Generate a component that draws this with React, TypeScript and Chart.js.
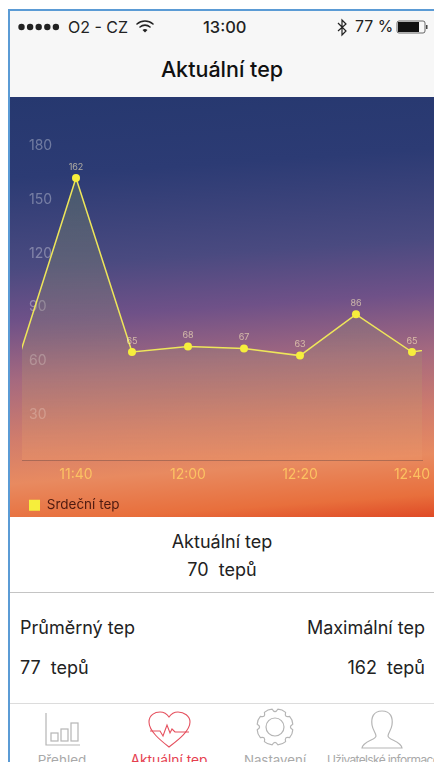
import React, { useEffect, useRef } from "react";
import { Chart, registerables } from "chart.js";

Chart.register(...registerables);

const timeLabels = ["11:30", "11:40", "11:50", "12:00", "12:10", "12:20", "12:30", "12:40", "12:50"];
const heartRate = [64, 162, 65, 68, 67, 63, 86, 65, 70];
const shownTimeIndexes = [1, 3, 5, 7];
const yTicks = [30, 60, 90, 120, 150, 180];
const seriesName = "Srdeční tep";
const FONT = "Inter, Roboto, sans-serif";

const pointLabels = {
  id: "pointLabels",
  afterDatasetsDraw(chart: any) {
    const ctx = chart.ctx;
    const meta = chart.getDatasetMeta(0);
    ctx.save();
    ctx.font = `9px ${FONT}`;
    ctx.textAlign = "center";
    ctx.textBaseline = "middle";
    ctx.fillStyle = "rgba(255,240,190,0.62)";
    meta.data.forEach((p: any, i: number) => {
      if (i === 0 || i === heartRate.length - 1) return;
      ctx.fillText(String(heartRate[i]), p.x, p.y - 11);
    });
    ctx.restore();
  },
};

function HeartChart() {
  const ref = useRef<HTMLCanvasElement>(null);
  useEffect(() => {
    const chart = new Chart(ref.current!, {
      type: "line",
      data: {
        datasets: [
          {
            label: seriesName,
            data: heartRate.map((v, i) => ({ x: i, y: v })),
            borderColor: "#eee65a",
            borderWidth: 1.5,
            backgroundColor: (c: any) => {
              const a = c.chart.chartArea;
              if (!a) return "rgba(125,140,110,0.28)";
              const g = c.chart.ctx.createLinearGradient(0, a.top + 60, 0, a.bottom);
              g.addColorStop(0, "rgba(105,130,100,0.42)");
              g.addColorStop(0.55, "rgba(150,140,115,0.30)");
              g.addColorStop(1, "rgba(238,150,105,0.40)");
              return g;
            },
            fill: "start",
            tension: 0,
            pointBackgroundColor: "#f6ee3c",
            pointBorderColor: "#f6ee3c",
            pointBorderWidth: 0,
            pointRadius: (c: any) => (c.dataIndex === 0 || c.dataIndex === heartRate.length - 1 ? 0 : 4),
          },
        ],
      },
      options: {
        responsive: false,
        animation: false,
        layout: { padding: { left: 12, right: 12, top: 20, bottom: -5 } },
        plugins: {
          tooltip: { enabled: false },
          legend: {
            position: "bottom",
            align: "start",
            labels: {
              boxWidth: 11,
              boxHeight: 11,
              padding: 7,
              color: "#4e1a10",
              font: { family: FONT, size: 13.5 },
              generateLabels: () => [
                { text: seriesName, fillStyle: "#f6ee3c", strokeStyle: "#f6ee3c", lineWidth: 0, datasetIndex: 0, fontColor: "#4e1a10" },
              ],
            },
          },
        },
        scales: {
          x: {
            type: "linear",
            min: 0.0357,
            max: 7.179,
            afterBuildTicks: (s: any) => {
              s.ticks = shownTimeIndexes.map((value) => ({ value }));
            },
            afterFit: (s: any) => {
              s.height = 31.5;
              s.paddingLeft = 0;
              s.paddingRight = 0;
            },
            grid: { display: false, drawTicks: false },
            border: { display: true, color: "rgba(120,80,70,0.5)", width: 1 },
            ticks: {
              color: "rgba(255,205,100,0.85)",
              font: { family: FONT, size: 14 },
              padding: 6,
              maxRotation: 0,
              autoSkip: false,
              callback: (v: any) => timeLabels[v],
            },
          },
          y: {
            min: 4.8,
            max: 196,
            afterBuildTicks: (s: any) => {
              s.ticks = yTicks.map((value) => ({ value }));
            },
            afterFit: (s: any) => {
              s.width = 0;
            },
            grid: { display: false, drawTicks: false },
            border: { display: false },
            ticks: {
              mirror: true,
              padding: 7,
              color: "rgba(255,255,255,0.33)",
              font: { family: FONT, size: 14 },
            },
          },
        },
      },
      plugins: [pointLabels],
    } as any);
    return () => chart.destroy();
  }, []);
  return <canvas ref={ref} width={424} height={420} style={{ display: "block", width: 424, height: 420 }} />;
}

const abs = (left: number, top: number, extra: React.CSSProperties = {}): React.CSSProperties => ({
  position: "absolute",
  left,
  top,
  whiteSpace: "nowrap",
  ...extra,
});

const tabs = [
  { label: "Přehled", cx: 62, color: "#a9a9a9", size: 13.5, spacing: 0 },
  { label: "Aktuální tep", cx: 169, color: "#e5404f", size: 13.8, spacing: 0 },
  { label: "Nastavení", cx: 275, color: "#a9a9a9", size: 13.3, spacing: 0 },
  { label: "Uživatelské informace", cx: 383, color: "#a9a9a9", size: 12, spacing: -0.65 },
];

const gearTeeth = [0, 1, 2, 3, 4, 5, 6, 7];
function gearPath(cx: number, cy: number, r1: number, r2: number) {
  let d = "";
  gearTeeth.forEach((i) => {
    const step = Math.PI / 4;
    const a = i * step + step / 2;
    const p = (ang: number, r: number) => `${(cx + Math.cos(ang) * r).toFixed(1)} ${(cy + Math.sin(ang) * r).toFixed(1)}`;
    d += `${i === 0 ? "M" : "L"}${p(a - step * 0.3, r2)} Q${p(a, r2 + 1)} ${p(a + step * 0.3, r2)} Q${p(a + step * 0.5, r1)} ${p(a + step * 0.7, r2)} `;
  });
  return d + "Z";
}

export default function App() {
  const dots = [0, 1, 2, 3, 4];
  return (
    <div style={{ position: "fixed", left: 0, top: 0, width: 434, height: 762, overflow: "hidden", background: "#fff", fontFamily: FONT, color: "#222" }}>
      <div style={abs(8, 9, { width: 426, height: 2, background: "#5b9bd5" })} />
      <div style={abs(8, 9, { width: 2, height: 753, background: "#5b9bd5" })} />
      <div style={abs(10, 11, { width: 424, height: 86, background: "#f7f7f7" })} />

      <svg width={434} height={97} style={abs(0, 0)}>
        {dots.map((d) => (
          <circle key={d} cx={21.5 + d * 8.6} cy={27} r={3.2} fill="#222" />
        ))}
        <g fill="none" stroke="#222" strokeWidth={1.6} strokeLinecap="round">
          <path d="M137 24 a12 12 0 0 1 16 0" />
          <path d="M140 27 a7.5 7.5 0 0 1 10 0" />
        </g>
        <path d="M142.5 30 a4 4 0 0 1 5 0 l-2.5 2.5 z" fill="#222" />
        <path d="M338 23 l8 8 l-4 4 v-15 l4 4 l-8 7" fill="none" stroke="#222" strokeWidth={1.2} />
        <rect x={397} y={21} width={28} height={12} rx={2} fill="none" stroke="#444" strokeWidth={0.8} />
        <rect x={398} y={22} width={21} height={10} fill="#111" />
        <rect x={426} y={25} width={1.5} height={4} fill="#444" />
      </svg>
      <div style={abs(68, 18, { fontSize: 16, lineHeight: "18px" })}>O2 - CZ</div>
      <div style={abs(203, 18, { fontSize: 16.5, lineHeight: "18px", fontWeight: 500 })}>13:00</div>
      <div style={abs(355, 18, { fontSize: 15.8, lineHeight: "18px" })}>77 %</div>
      <div style={abs(10, 56, { width: 424, textAlign: "center", fontSize: 21.5, lineHeight: "26px", fontWeight: 500, color: "#111" })}>Aktuální tep</div>

      <div style={abs(10, 97, { width: 424, height: 420, background: "linear-gradient(176deg, #26386f 0%, #2c3b74 18%, #4a4a80 38%, #6f5188 50%, #a5697f 63%, #d07c6c 76%, #e88a60 86%, #e86f3c 95%, #df4a26 100%)" })}>
        <HeartChart />
      </div>

      <div style={abs(10, 530, { width: 424, textAlign: "center", fontSize: 18, lineHeight: "24px" })}>Aktuální tep</div>
      <div style={abs(10, 558, { width: 424, textAlign: "center", fontSize: 18, lineHeight: "24px" })}>70&nbsp; tepů</div>
      <div style={abs(10, 592, { width: 424, height: 1, background: "#c4c4c4" })} />

      <div style={abs(20, 616, { fontSize: 18, lineHeight: "24px" })}>Průměrný tep</div>
      <div style={abs(20, 656, { fontSize: 18, lineHeight: "24px" })}>77&nbsp; tepů</div>
      <div style={abs(225, 616, { width: 200, textAlign: "right", fontSize: 18, lineHeight: "24px" })}>Maximální tep</div>
      <div style={abs(225, 656, { width: 200, textAlign: "right", fontSize: 18, lineHeight: "24px" })}>162&nbsp; tepů</div>
      <div style={abs(10, 703, { width: 424, height: 1, background: "#dcdcdc" })} />

      <svg width={434} height={60} viewBox="0 702 434 60" style={abs(0, 702)}>
        <g fill="none" stroke="#b5b5b5" strokeWidth={1.2}>
          <path d="M46 713 V745 H80" />
          <rect x={51} y={733} width={7} height={8} />
          <rect x={61} y={729} width={7} height={12} />
          <rect x={71} y={723} width={7} height={18} />
        </g>
        <g fill="none" stroke="#e5505e" strokeWidth={1.1}>
          <path d="M169 747 C160 740 149 731 149 722 C149 715 155 712 160 712 C164 712 167 714 169 717 C171 714 174 712 178 712 C184 712 190 716 190 722 C190 731 178 740 169 747 Z" />
          <path d="M150 731 H160 L163 736 L167 725 L170 733 L172 729 L175 732 H189" />
        </g>
        <g fill="none" stroke="#b5b5b5" strokeWidth={1.2}>
          <path d={gearPath(275, 727, 13, 18)} strokeLinejoin="round" />
          <circle cx={275} cy={727} r={9} />
        </g>
        <path d="M382 711 C373 711 371 718 372 725 C373 731 376 733 376 736 C376 740 363 741 362 748 H402 C401 741 388 740 388 736 C388 733 391 731 392 725 C393 718 391 711 382 711 Z" fill="none" stroke="#b5b5b5" strokeWidth={1.2} />
      </svg>
      {tabs.map((t) => (
        <div key={t.label} style={abs(t.cx - 70, 752, { width: 140, textAlign: "center", fontSize: t.size, lineHeight: "16px", color: t.color, letterSpacing: t.spacing })}>
          {t.label}
        </div>
      ))}
    </div>
  );
}
